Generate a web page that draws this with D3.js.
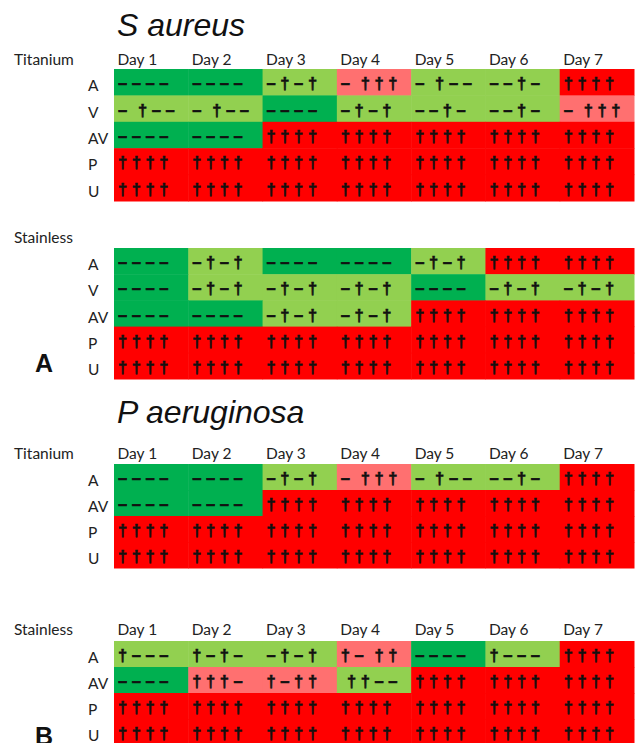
<!DOCTYPE html>
<html>
<head>
<meta charset="utf-8">
<script src="https://cdn.jsdelivr.net/npm/d3@7"></script>
<style>
  html, body { margin: 0; padding: 0; background: #fff; }
  svg { display: block; }
  .lbl { font-family: Lato, "Open Sans", sans-serif; font-size: 15.5px; fill: #222; }
  .sym { font-family: "Liberation Sans", Arial, sans-serif; font-weight: bold; font-size: 16.5px;
         letter-spacing: 4.6px; word-spacing: -3px; white-space: pre; fill: #111;
         stroke: #111; stroke-width: 0.6px; }
  .title { font-family: "Liberation Sans", Arial, sans-serif; font-style: italic; font-size: 32px; fill: #111; }
  .panel { font-family: "Liberation Sans", Arial, sans-serif; font-weight: bold; font-size: 25px; fill: #111; }
</style>
</head>
<body>
<svg id="chart" width="636" height="743"></svg>
<script>
// ---------- data ----------
const days = ["Day 1", "Day 2", "Day 3", "Day 4", "Day 5", "Day 6", "Day 7"];
const rowsSaureus = ["A", "V", "AV", "P", "U"];
const rowsPaeruginosa = ["A", "AV", "P", "U"];

// "–" = negative, "†" = positive (as read from each cell)
const saureusTitanium = [
  ["––––", "––––", "–†–†", "– †††", "– †––", "––†–", "††††"],
  ["– †––", "– †––", "––––", "–†–†", "––†–", "––†–", "– †††"],
  ["––––", "––––", "††††", "††††", "††††", "††††", "††††"],
  ["††††", "††††", "††††", "††††", "††††", "††††", "††††"],
  ["††††", "††††", "††††", "††††", "††††", "††††", "††††"]
];
const saureusStainless = [
  ["––––", "–†–†", "––––", "––––", "–†–†", "††††", "††††"],
  ["––––", "–†–†", "–†–†", "–†–†", "––––", "–†–†", "–†–†"],
  ["––––", "––––", "–†–†", "–†–†", "††††", "††††", "††††"],
  ["††††", "††††", "††††", "††††", "††††", "††††", "††††"],
  ["††††", "††††", "††††", "††††", "††††", "††††", "††††"]
];
const paeruginosaTitanium = [
  ["––––", "––––", "–†–†", "– †††", "– †––", "––†–", "††††"],
  ["––––", "––––", "††††", "††††", "††††", "††††", "††††"],
  ["††††", "††††", "††††", "††††", "††††", "††††", "††††"],
  ["††††", "††††", "††††", "††††", "††††", "††††", "††††"]
];
const paeruginosaStainless = [
  ["†–––", "†–†–", "–†–†", "†– ††", "––––", "†–––", "††††"],
  ["––––", "†††–", "†–††", " ††––", "††††", "††††", "††††"],
  ["††††", "††††", "††††", "††††", "††††", "††††", "††††"],
  ["††††", "††††", "††††", "††††", "††††", "††††", "††††"]
];

// ---------- drawing ----------
const svg = d3.select("#chart");
const x = d3.scaleBand().domain(days).range([114, 634]);
const colour = d3.scaleOrdinal()
  .domain([0, 1, 2, 3, 4])
  .range(["#00B050", "#92D050", "#92D050", "#FF7070", "#FF0000"]);
const positives = s => (s.match(/†/g) || []).length;

function grid(rows, values, y0, y1, label, labelY, showDays) {
  const y = d3.scaleBand().domain(rows).range([y0, y1]);
  const g = svg.append("g");
  const cells = [];
  values.forEach((row, ri) => row.forEach((v, ci) =>
    cells.push({ row: rows[ri], day: days[ci], v })));

  g.selectAll("rect.cell").data(cells).join("rect")
    .attr("class", "cell")
    .attr("x", d => x(d.day))
    .attr("y", d => y(d.row))
    .attr("width", x.bandwidth() + 0.5)
    .attr("height", y.bandwidth() + 0.5)
    .attr("fill", d => colour(positives(d.v)));

  g.selectAll("text.sym").data(cells).join("text")
    .attr("class", "sym")
    .attr("x", d => x(d.day) + 4)
    .attr("y", d => y(d.row) + y.bandwidth() / 2 + 7)
    .text(d => d.v);

  g.selectAll("text.row").data(rows).join("text")
    .attr("class", "lbl")
    .attr("x", 88)
    .attr("y", d => y(d) + y.bandwidth() / 2 + 9)
    .text(d => d);

  g.append("text").attr("class", "lbl").attr("x", 14).attr("y", labelY).text(label);
  if (showDays) {
    g.selectAll("text.day").data(days).join("text")
      .attr("class", "lbl")
      .attr("x", d => x(d) + 3.5)
      .attr("y", labelY)
      .text(d => d);
  }
}

svg.append("text").attr("class", "title").attr("x", 117).attr("y", 36).text("S aureus");
grid(rowsSaureus, saureusTitanium, 69, 201, "Titanium", 64.5, true);
grid(rowsSaureus, saureusStainless, 248, 379, "Stainless", 243, false);
svg.append("text").attr("class", "panel").attr("x", 35).attr("y", 372).text("A");

svg.append("text").attr("class", "title").attr("x", 117).attr("y", 423).text("P aeruginosa");
grid(rowsPaeruginosa, paeruginosaTitanium, 464, 568, "Titanium", 459, true);
grid(rowsPaeruginosa, paeruginosaStainless, 641, 745, "Stainless", 635, true);
svg.append("text").attr("class", "panel").attr("x", 35).attr("y", 745).text("B");
</script>
</body>
</html>
